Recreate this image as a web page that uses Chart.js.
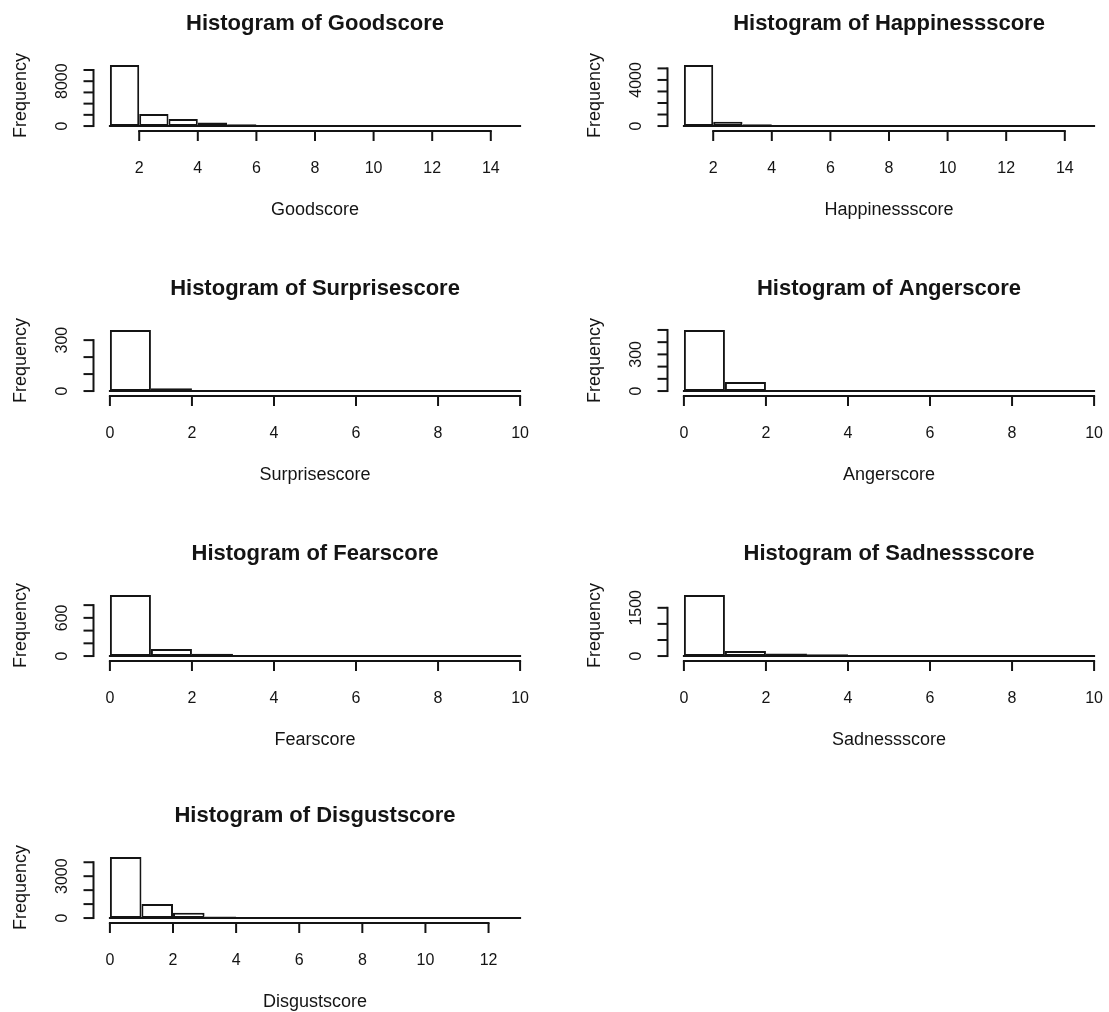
<!DOCTYPE html>
<html>
<head>
<meta charset="utf-8">
<script src="https://cdn.jsdelivr.net/npm/chart.js@4.4.1/dist/chart.umd.min.js"></script>
<style>
  html, body { margin: 0; padding: 0; background: #fff; width: 1109px; height: 1012px; overflow: hidden; }
  .cell { position: absolute; width: 554px; height: 265px; }
  .cell canvas { display: block; }
</style>
</head>
<body>
<div class="cell" style="left:0px;top:0px"><canvas id="h0" width="554" height="265"></canvas></div>
<div class="cell" style="left:574px;top:0px"><canvas id="h1" width="554" height="265"></canvas></div>
<div class="cell" style="left:0px;top:265px"><canvas id="h2" width="554" height="265"></canvas></div>
<div class="cell" style="left:574px;top:265px"><canvas id="h3" width="554" height="265"></canvas></div>
<div class="cell" style="left:0px;top:530px"><canvas id="h4" width="554" height="265"></canvas></div>
<div class="cell" style="left:574px;top:530px"><canvas id="h5" width="554" height="265"></canvas></div>
<div class="cell" style="left:0px;top:792px"><canvas id="h6" width="554" height="265"></canvas></div>
<script>
// Bin left edges (unit-width bins), bin counts and axis ticks for each score.
const goodscoreBins    = [1, 2, 3, 4, 5, 6, 7, 8, 9, 10, 11, 12, 13, 14];
const goodscoreCounts  = [10900, 2130, 1240, 650, 300, 60, 20, 8, 4, 2, 1, 1, 0, 1];
const goodscoreXTicks  = [2, 4, 6, 8, 10, 12, 14];
const goodscoreYTicks  = [0, 2000, 4000, 6000, 8000, 10000];
const goodscoreYLabels = ['0', '', '', '', '8000', ''];

const happinessBins    = [1, 2, 3, 4, 5, 6, 7, 8, 9, 10, 11, 12, 13, 14];
const happinessCounts  = [5300, 365, 150, 20, 5, 2, 1, 0, 0, 0, 0, 0, 0, 1];
const happinessXTicks  = [2, 4, 6, 8, 10, 12, 14];
const happinessYTicks  = [0, 1000, 2000, 3000, 4000, 5000];
const happinessYLabels = ['0', '', '', '', '4000', ''];

const surpriseBins     = [0, 1, 2, 3, 4, 5, 6, 7, 8, 9];
const surpriseCounts   = [360, 16, 3, 1, 1, 0, 0, 0, 0, 1];
const surpriseXTicks   = [0, 2, 4, 6, 8, 10];
const surpriseYTicks   = [0, 100, 200, 300];
const surpriseYLabels  = ['0', '', '', '300'];

const angerBins        = [0, 1, 2, 3, 4, 5, 6, 7, 8, 9];
const angerCounts      = [500, 75, 5, 2, 1, 0, 0, 0, 0, 1];
const angerXTicks      = [0, 2, 4, 6, 8, 10];
const angerYTicks      = [0, 100, 200, 300, 400, 500];
const angerYLabels     = ['0', '', '', '300', '', ''];

const fearBins         = [0, 1, 2, 3, 4, 5, 6, 7, 8, 9];
const fearCounts       = [960, 112, 38, 5, 2, 1, 0, 0, 0, 1];
const fearXTicks       = [0, 2, 4, 6, 8, 10];
const fearYTicks       = [0, 200, 400, 600, 800];
const fearYLabels      = ['0', '', '', '600', ''];

const sadnessBins      = [0, 1, 2, 3, 4, 5, 6, 7, 8, 9];
const sadnessCounts    = [1900, 160, 80, 55, 8, 3, 1, 0, 0, 1];
const sadnessXTicks    = [0, 2, 4, 6, 8, 10];
const sadnessYTicks    = [0, 500, 1000, 1500];
const sadnessYLabels   = ['0', '', '', '1500'];

const disgustBins      = [0, 1, 2, 3, 4, 5, 6, 7, 8, 9, 10, 11, 12];
const disgustCounts    = [4380, 1000, 380, 120, 20, 5, 2, 1, 0, 0, 0, 0, 1];
const disgustXTicks    = [0, 2, 4, 6, 8, 10, 12];
const disgustYTicks    = [0, 1000, 2000, 3000, 4000];
const disgustYLabels   = ['0', '', '', '3000', ''];

const panels = [
  { canvas: 'h0', name: 'Goodscore',      bins: goodscoreBins, counts: goodscoreCounts, xTicks: goodscoreXTicks, yTicks: goodscoreYTicks, yLabels: goodscoreYLabels },
  { canvas: 'h1', name: 'Happinessscore', bins: happinessBins, counts: happinessCounts, xTicks: happinessXTicks, yTicks: happinessYTicks, yLabels: happinessYLabels },
  { canvas: 'h2', name: 'Surprisescore',  bins: surpriseBins,  counts: surpriseCounts,  xTicks: surpriseXTicks,  yTicks: surpriseYTicks,  yLabels: surpriseYLabels },
  { canvas: 'h3', name: 'Angerscore',     bins: angerBins,     counts: angerCounts,     xTicks: angerXTicks,     yTicks: angerYTicks,     yLabels: angerYLabels },
  { canvas: 'h4', name: 'Fearscore',      bins: fearBins,      counts: fearCounts,      xTicks: fearXTicks,      yTicks: fearYTicks,      yLabels: fearYLabels },
  { canvas: 'h5', name: 'Sadnessscore',   bins: sadnessBins,   counts: sadnessCounts,   xTicks: sadnessXTicks,   yTicks: sadnessYTicks,   yLabels: sadnessYLabels },
  { canvas: 'h6', name: 'Disgustscore',   bins: disgustBins,   counts: disgustCounts,   xTicks: disgustXTicks,   yTicks: disgustYTicks,   yLabels: disgustYLabels }
];

const INK = '#141414';
const FONT = "'Liberation Sans', Arial, sans-serif";
const LINE_W = 2;
const CELL_W = 554, CELL_H = 265;
// plot region inside every cell (base-graphics style margins)
const PLOT = { left: 93.5, right: 536.5, top: 62.5, bottom: 128.5 };

// Draws the base-graphics style frame: bin baseline, detached axes, tick labels and titles.
function baseFrame(p) {
  return {
    id: 'baseFrame',
    afterDatasetsDraw(chart) {
      const { ctx, chartArea, scales: { x, y } } = chart;
      const y0 = y.getPixelForValue(0);
      const line = (x1, y1, x2, y2) => { ctx.beginPath(); ctx.moveTo(x1, y1); ctx.lineTo(x2, y2); ctx.stroke(); };
      ctx.save();
      ctx.strokeStyle = INK;
      ctx.lineWidth = LINE_W;
      ctx.lineCap = 'butt';

      // bottom edge shared by all bins
      const lo = p.bins[0], hi = p.bins[p.bins.length - 1] + 1;
      line(x.getPixelForValue(lo) - 1, y0, x.getPixelForValue(hi) + 1, y0);

      // x axis
      const axY = chartArea.bottom + 2.5;
      const xt = x.ticks.map(t => x.getPixelForValue(t.value));
      line(xt[0] - 1, axY, xt[xt.length - 1] + 1, axY);
      ctx.fillStyle = INK;
      ctx.font = '16px ' + FONT;
      ctx.textAlign = 'center';
      ctx.textBaseline = 'alphabetic';
      x.ticks.forEach((t, i) => {
        line(xt[i], axY, xt[i], axY + 10);
        ctx.fillText(String(t.value), xt[i], y0 + 46.5);
      });

      // y axis
      const axX = chartArea.left;
      const yt = y.ticks.map(t => y.getPixelForValue(t.value));
      line(axX, yt[0] + 1, axX, yt[yt.length - 1] - 1);
      y.ticks.forEach((t, i) => {
        line(axX, yt[i], axX - 10, yt[i]);
        const lab = p.yLabels[p.yTicks.indexOf(t.value)];
        if (lab) {
          ctx.save();
          ctx.translate(axX - 27, yt[i]);
          ctx.rotate(-Math.PI / 2);
          ctx.fillText(lab, 0, 0);
          ctx.restore();
        }
      });

      // axis titles
      ctx.font = '18px ' + FONT;
      const cx = (chartArea.left + chartArea.right) / 2;
      const cy = (chartArea.top + chartArea.bottom) / 2;
      ctx.fillText(p.name, cx, y0 + 88.5);
      ctx.save();
      ctx.translate(axX - 68, cy);
      ctx.rotate(-Math.PI / 2);
      ctx.fillText('Frequency', 0, 0);
      ctx.restore();

      // main title
      ctx.font = 'bold 22px ' + FONT;
      ctx.fillText('Histogram of ' + p.name, cx, chartArea.top - 33);
      ctx.restore();
    }
  };
}

panels.forEach(p => {
  const lo = p.bins[0], hi = p.bins[p.bins.length - 1] + 1;
  const xPad = 0.04 * (hi - lo);
  const top = Math.max(...p.counts);
  new Chart(document.getElementById(p.canvas), {
    type: 'bar',
    data: {
      datasets: [{
        data: p.bins.map((b, i) => ({ x: b + 0.5, y: p.counts[i] })),
        backgroundColor: '#ffffff',
        borderColor: INK,
        borderWidth: LINE_W,
        borderSkipped: false,
        barPercentage: 1,
        categoryPercentage: 1,
        inflateAmount: 0
      }]
    },
    options: {
      responsive: false,
      animation: false,
      events: [],
      layout: {
        padding: { left: PLOT.left, right: CELL_W - PLOT.right, top: PLOT.top, bottom: CELL_H - PLOT.bottom }
      },
      plugins: { legend: { display: false }, tooltip: { enabled: false }, title: { display: false } },
      scales: {
        x: {
          type: 'linear', display: false, offset: false, bounds: 'data',
          min: lo - xPad, max: hi + xPad,
          grid: { offset: false },
          ticks: { autoSkip: false },
          afterBuildTicks: axis => { axis.ticks = p.xTicks.map(v => ({ value: v })); }
        },
        y: {
          type: 'linear', display: false, bounds: 'data',
          min: -0.04 * top, max: 1.04 * top,
          ticks: { autoSkip: false },
          afterBuildTicks: axis => { axis.ticks = p.yTicks.map(v => ({ value: v })); }
        }
      }
    },
    plugins: [baseFrame(p)]
  });
});
</script>
</body>
</html>
